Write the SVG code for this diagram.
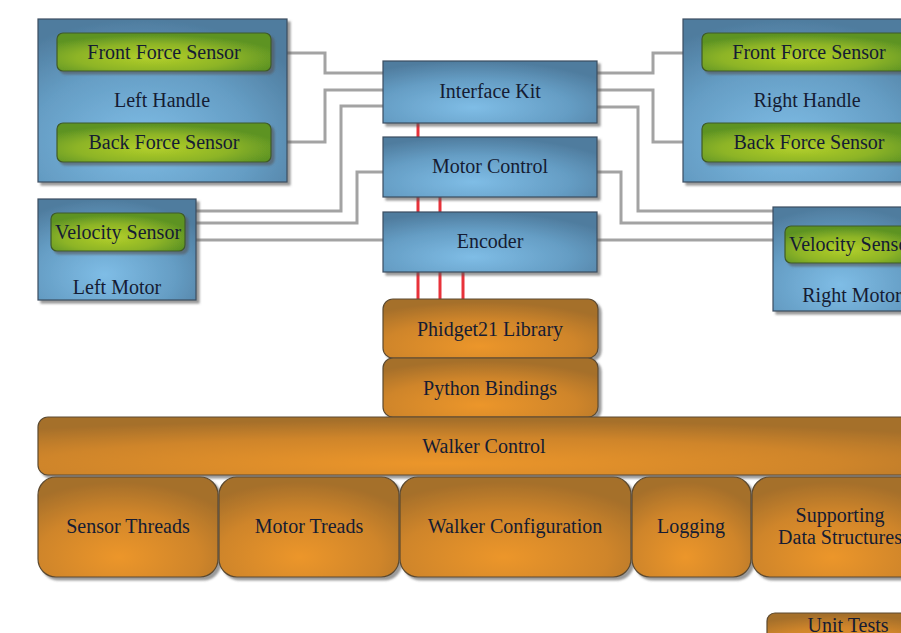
<svg xmlns="http://www.w3.org/2000/svg" width="901" height="633" viewBox="0 0 901 633">
<defs>
<radialGradient id="gBlue" cx="0.42" cy="0.75" r="0.75">
<stop offset="0" stop-color="#7fbde6"/>
<stop offset="0.6" stop-color="#659dc4"/>
<stop offset="1" stop-color="#4f7c9e"/>
</radialGradient>
<radialGradient id="gGreen" cx="0.45" cy="0.65" r="0.6">
<stop offset="0" stop-color="#b2cf2a"/>
<stop offset="0.6" stop-color="#8db426"/>
<stop offset="1" stop-color="#5d9324"/>
</radialGradient>
<radialGradient id="gOrange" cx="0.45" cy="0.8" r="0.75">
<stop offset="0" stop-color="#ec962c"/>
<stop offset="0.6" stop-color="#cf852a"/>
<stop offset="1" stop-color="#a56f2a"/>
</radialGradient>
<filter id="sh" x="-5%" y="-5%" width="115%" height="125%">
<feDropShadow dx="3" dy="3" stdDeviation="1" flood-color="#555" flood-opacity="0.6"/>
</filter>
</defs>
<style>
.blue{fill:url(#gBlue);stroke:#3b4d60;stroke-width:1.2;filter:url(#sh)}
.green{fill:url(#gGreen);stroke:#3f5a28;stroke-width:1.2;filter:url(#sh)}
.orange{fill:url(#gOrange);stroke:#5c4a30;stroke-width:1.2;filter:url(#sh)}
text{font-family:"Liberation Serif","Times New Roman",serif;font-size:20px;fill:#151c33;text-anchor:middle}
.wire{fill:none;stroke:#a3a3a3;stroke-width:3}
.red{fill:none;stroke:#e8323a;stroke-width:3}
</style>
<g id="connectors">
<path class="wire" d="M271,53 H325 V73 H383"/>
<path class="wire" d="M271,142 H325 V90 H383"/>
<path class="wire" d="M196,211 H341 V106 H383"/>
<path class="wire" d="M196,223 H357 V172 H383"/>
<path class="wire" d="M185,240 H383"/>
<path class="wire" d="M597,73 H653 V53 H702"/>
<path class="wire" d="M597,90 H653 V142 H702"/>
<path class="wire" d="M597,107 H638 V211 H773"/>
<path class="wire" d="M597,172 H621 V223 H773"/>
<path class="wire" d="M597,240 H785"/>
<path class="red" d="M418,123 V137"/>
<path class="red" d="M418,197 V212 M440,197 V212"/>
<path class="red" d="M418,272 V300 M440,272 V300 M463,272 V300"/>
</g>
<g id="left-handle">
<rect class="blue" x="38" y="19" width="249" height="163"/>
<text x="162" y="107">Left Handle</text>
</g>
<g id="left-front-force">
<rect class="green" x="57" y="33" width="214" height="38" rx="6"/>
<text x="164" y="59">Front Force Sensor</text>
</g>
<g id="left-back-force">
<rect class="green" x="57" y="123" width="214" height="39" rx="6"/>
<text x="164" y="149">Back Force Sensor</text>
</g>
<g id="left-motor">
<rect class="blue" x="38" y="199" width="158" height="101"/>
<text x="117" y="294">Left Motor</text>
</g>
<g id="left-velocity">
<rect class="green" x="51" y="213" width="134" height="38" rx="6"/>
<text x="118" y="239">Velocity Sensor</text>
</g>
<g id="interface-kit">
<rect class="blue" x="383" y="61" width="214" height="62"/>
<text x="490" y="98">Interface Kit</text>
</g>
<g id="motor-control">
<rect class="blue" x="383" y="137" width="214" height="60"/>
<text x="490" y="173">Motor Control</text>
</g>
<g id="encoder">
<rect class="blue" x="383" y="212" width="214" height="60"/>
<text x="490" y="248">Encoder</text>
</g>
<g id="right-handle">
<rect class="blue" x="683" y="19" width="249" height="163"/>
<text x="807" y="107">Right Handle</text>
</g>
<g id="right-front-force">
<rect class="green" x="702" y="33" width="214" height="38" rx="6"/>
<text x="809" y="59">Front Force Sensor</text>
</g>
<g id="right-back-force">
<rect class="green" x="702" y="123" width="214" height="39" rx="6"/>
<text x="809" y="149">Back Force Sensor</text>
</g>
<g id="right-motor">
<rect class="blue" x="773" y="207" width="159" height="104"/>
<text x="852" y="302">Right Motor</text>
</g>
<g id="right-velocity">
<rect class="green" x="785" y="226" width="134" height="37" rx="6"/>
<text x="852" y="251">Velocity Sensor</text>
</g>
<g id="phidget21">
<rect class="orange" x="383" y="299" width="215" height="59" rx="10"/>
<text x="490" y="336">Phidget21 Library</text>
</g>
<g id="python-bindings">
<rect class="orange" x="383" y="358" width="215" height="59" rx="10"/>
<text x="490" y="395">Python Bindings</text>
</g>
<g id="walker-control">
<rect class="orange" x="38" y="417" width="892" height="58" rx="10"/>
<text x="484" y="453">Walker Control</text>
</g>
<g id="sensor-threads">
<rect class="orange" x="38" y="477" width="180" height="100" rx="18"/>
<text x="128" y="533">Sensor Threads</text>
</g>
<g id="motor-treads">
<rect class="orange" x="219" y="477" width="180" height="100" rx="18"/>
<text x="309" y="533">Motor Treads</text>
</g>
<g id="walker-configuration">
<rect class="orange" x="400" y="477" width="231" height="100" rx="18"/>
<text x="515" y="533">Walker Configuration</text>
</g>
<g id="logging">
<rect class="orange" x="632" y="477" width="119" height="100" rx="18"/>
<text x="691" y="533">Logging</text>
</g>
<g id="supporting-data-structures">
<rect class="orange" x="752" y="477" width="178" height="100" rx="18"/>
<text x="840" y="522">Supporting</text>
<text x="840" y="544">Data Structures</text>
</g>
<g id="unit-tests">
<rect class="orange" x="767" y="613" width="163" height="40" rx="8"/>
<text x="848" y="632">Unit Tests</text>
</g>
</svg>
